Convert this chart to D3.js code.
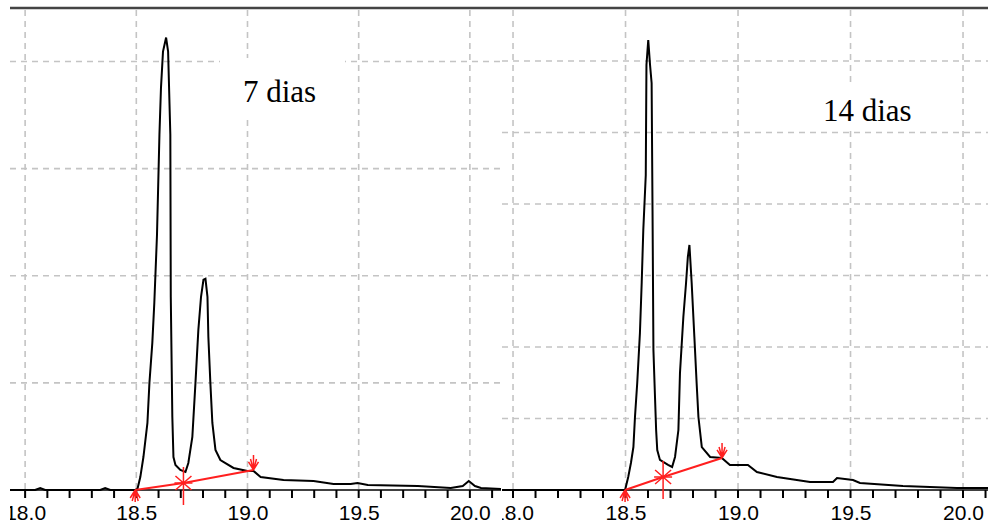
<!DOCTYPE html>
<html>
<head>
<meta charset="utf-8">
<script src="https://cdn.jsdelivr.net/npm/d3@7"></script>
<style>
  body { margin: 0; background: #fff; }
  svg { display: block; }
</style>
</head>
<body>
<div id="chart"></div>
<script>
// tick labels along the time axis (minutes)
const tickValues = [18.0, 18.5, 19.0, 19.5, 20.0];
const minorTicks = [17.9, 18.0, 18.1, 18.2, 18.3, 18.4, 18.5, 18.6, 18.7, 18.8, 18.9, 19.0, 19.1, 19.2, 19.3, 19.4, 19.5, 19.6, 19.7, 19.8, 19.9, 20.0, 20.1];

// 7 dias trace
const time7 = [17.932, 18.045, 18.068, 18.090, 18.338, 18.360, 18.383, 18.495, 18.505, 18.518, 18.532, 18.550, 18.559, 18.572, 18.581, 18.593,
  18.604, 18.611, 18.620, 18.634, 18.643, 18.653, 18.655, 18.662, 18.667, 18.676, 18.698, 18.721, 18.734, 18.752, 18.766, 18.779,
  18.791, 18.802, 18.811, 18.820, 18.824, 18.833, 18.842, 18.856, 18.878, 18.937, 19.000, 19.027, 19.059, 19.162, 19.297, 19.387,
  19.464, 19.495, 19.541, 19.766, 19.914, 19.968, 19.995, 20.023, 20.050, 20.140];
const signal7 = [0, 0, 0.019, 0, 0, 0.019, 0, 0, 0.009, 0.121, 0.308, 0.626, 1.000, 1.374, 1.748, 2.380,
  3.318, 3.757, 4.093, 4.224, 4.093, 3.318, 1.804, 0.682, 0.308, 0.234, 0.187, 0.168, 0.252, 0.495, 1.000, 1.495,
  1.804, 1.963, 1.972, 1.804, 1.430, 1.000, 0.626, 0.374, 0.280, 0.206, 0.178, 0.178, 0.121, 0.093, 0.084, 0.056,
  0.056, 0.065, 0.047, 0.037, 0.019, 0.037, 0.084, 0.037, 0.019, 0.009];
// integration baseline (start, split, end)
const base7Time = [18.495, 18.712, 19.027];
const base7Value = [0, 0.065, 0.187];

// 14 dias trace
const time14 = [17.951, 18.498, 18.512, 18.524, 18.535, 18.542, 18.552, 18.564, 18.572, 18.579, 18.590, 18.593, 18.601, 18.609, 18.616,
  18.620, 18.624, 18.631, 18.636, 18.641, 18.653, 18.689, 18.707, 18.720, 18.735, 18.742, 18.757, 18.769, 18.777, 18.784, 18.794,
  18.806, 18.816, 18.824, 18.839, 18.876, 18.928, 18.964, 19.044, 19.084, 19.173, 19.320, 19.422, 19.440, 19.511, 19.542, 19.733,
  19.973, 20.111];
const signal14 = [0, 0, 0.182, 0.378, 0.601, 1.021, 1.497, 2.196, 2.909, 3.636, 4.406, 5.944, 6.294, 5.944, 5.692,
  3.916, 1.958, 1.301, 0.839, 0.559, 0.420, 0.350, 0.322, 0.462, 0.839, 1.636, 2.420, 2.895, 3.259, 3.427, 2.895,
  2.140, 1.497, 1.021, 0.601, 0.462, 0.448, 0.350, 0.350, 0.252, 0.182, 0.112, 0.112, 0.168, 0.140, 0.098, 0.056,
  0.028, 0.028];
const base14Time = [18.498, 18.667, 18.929];
const base14Value = [0, 0.182, 0.448];

const width = 988, height = 530;
const axisY = 490, topY = 8;

const panels = [
  { id: 'p7', left: 10, right: 501, tDomain: [17.932, 20.14], vMax: 4.5, grid: [1, 2, 3, 4],
    time: time7, signal: signal7, bt: base7Time, bv: base7Value,
    label: '7 dias', lx: 243, ly: 102, box: [220, 58, 125, 60] },
  { id: 'p14', left: 502, right: 988, tDomain: [17.951, 20.111], vMax: 6.741, grid: [1, 2, 3, 4, 5, 6],
    time: time14, signal: signal14, bt: base14Time, bv: base14Value,
    label: '14 dias', lx: 823, ly: 121, box: [812, 86, 112, 42] }
];

const svg = d3.select('#chart').append('svg')
  .attr('width', width)
  .attr('height', height);

const gridColor = '#c4c4c4';
const red = '#ff1f1f';

panels.forEach(p => {
  const x = d3.scaleLinear().domain(p.tDomain).range([p.left, p.right]);
  const y = d3.scaleLinear().domain([0, p.vMax]).range([axisY, topY]);

  svg.append('clipPath').attr('id', 'clip-' + p.id)
    .append('rect')
    .attr('x', p.left).attr('y', 0)
    .attr('width', p.right - p.left).attr('height', height);

  const g = svg.append('g').attr('clip-path', `url(#clip-${p.id})`);

  // dashed grid
  g.selectAll('.hgrid').data(p.grid).enter().append('line')
    .attr('class', 'hgrid')
    .attr('x1', p.left).attr('x2', p.right)
    .attr('y1', d => y(d)).attr('y2', d => y(d))
    .attr('stroke', gridColor).attr('stroke-width', 1.6)
    .attr('stroke-dasharray', '6,5');

  g.selectAll('.vgrid').data(tickValues).enter().append('line')
    .attr('class', 'vgrid')
    .attr('x1', d => x(d)).attr('x2', d => x(d))
    .attr('y1', topY + 2).attr('y2', axisY)
    .attr('stroke', gridColor).attr('stroke-width', 1.6)
    .attr('stroke-dasharray', '6,5');

  // label with white box behind it
  g.append('rect')
    .attr('x', p.box[0]).attr('y', p.box[1])
    .attr('width', p.box[2]).attr('height', p.box[3])
    .attr('fill', '#fff');
  g.append('text')
    .attr('x', p.lx).attr('y', p.ly)
    .attr('font-family', '"Liberation Serif", "Times New Roman", serif')
    .attr('font-size', 31)
    .attr('fill', '#000')
    .text(p.label);

  // tick labels
  g.append('g')
    .attr('transform', `translate(0,${axisY + 12})`)
    .call(d3.axisBottom(x).tickValues(tickValues).tickSize(0).tickFormat(d3.format('.1f')))
    .call(a => a.select('.domain').remove())
    .call(a => a.selectAll('text')
      .attr('font-family', '"Liberation Sans", Arial, sans-serif')
      .attr('font-size', 21)
      .attr('fill', '#000'));

  // axis line
  g.append('line')
    .attr('x1', p.left).attr('x2', p.right)
    .attr('y1', axisY).attr('y2', axisY)
    .attr('stroke', '#000').attr('stroke-width', 1.5);

  // minor ticks every 0.1
  g.selectAll('.minor').data(minorTicks).enter().append('line')
    .attr('class', 'minor')
    .attr('x1', d => x(d)).attr('x2', d => x(d))
    .attr('y1', axisY).attr('y2', axisY + 8)
    .attr('stroke', '#000').attr('stroke-width', 2);

  // trace
  const pts = p.time.map((t, i) => [t, p.signal[i]]);
  g.append('path')
    .datum(pts)
    .attr('fill', 'none')
    .attr('stroke', '#000')
    .attr('stroke-width', 2)
    .attr('stroke-linejoin', 'miter')
    .attr('d', d3.line().x(d => x(d[0])).y(d => y(d[1])));

  // integration baseline
  const bpts = p.bt.map((t, i) => [x(t), y(p.bv[i])]);
  g.append('path')
    .datum(bpts)
    .attr('fill', 'none')
    .attr('stroke', red)
    .attr('stroke-width', 2)
    .attr('d', d3.line());

  // markers: start (arrow below), split (star), end (arrow above)
  const mk = g.append('g').attr('stroke', red).attr('stroke-width', 1.5).attr('fill', 'none');
  const [sx, sy] = bpts[0];
  mk.append('path').attr('d', `M${sx},${sy}V${sy + 12}M${sx},${sy}L${sx - 5},${sy + 8}M${sx},${sy}L${sx + 5},${sy + 8}M${sx},${sy}L${sx - 3},${sy + 11}M${sx},${sy}L${sx + 3},${sy + 11}`);
  const [mx, my] = bpts[1];
  mk.append('path').attr('d', `M${mx},${my - 16}V${my + 22}M${mx - 8},${my - 7}L${mx + 8},${my + 7}M${mx - 8},${my + 7}L${mx + 8},${my - 7}M${mx - 9},${my}H${mx + 9}`);
  const [ex, ey] = bpts[2];
  mk.append('path').attr('d', `M${ex},${ey}V${ey - 15}M${ex},${ey}L${ex - 5},${ey - 8}M${ex},${ey}L${ex + 5},${ey - 8}M${ex},${ey}L${ex - 3},${ey - 11}M${ex},${ey}L${ex + 3},${ey - 11}`);
});

// top frame line
svg.append('line')
  .attr('x1', 10).attr('x2', width)
  .attr('y1', topY).attr('y2', topY)
  .attr('stroke', '#444').attr('stroke-width', 2.5);
</script>
</body>
</html>
